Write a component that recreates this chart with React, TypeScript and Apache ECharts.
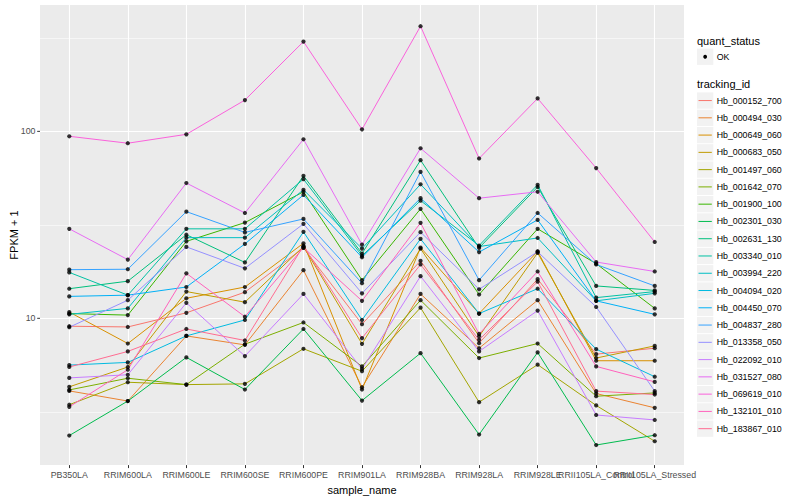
import React, { useEffect, useRef } from "react";
import * as echarts from "echarts";

const categories = [
  "PB350LA", "RRIM600LA", "RRIM600LE", "RRIM600SE", "RRIM600PE", "RRIM901LA",
  "RRIM928BA", "RRIM928LA", "RRIM928LE", "RRII105LA_Control", "RRII105LA_Stressed",
];

const trackingIds = [
  "Hb_000152_700", "Hb_000494_030", "Hb_000649_060", "Hb_000683_050", "Hb_001497_060",
  "Hb_001642_070", "Hb_001900_100", "Hb_002301_030", "Hb_002631_130", "Hb_003340_010",
  "Hb_003994_220", "Hb_004094_020", "Hb_004450_070", "Hb_004837_280", "Hb_013358_050",
  "Hb_022092_010", "Hb_031527_080", "Hb_069619_010", "Hb_132101_010", "Hb_183867_010",
];

const colors = [
  "#F8766D", "#EA8331", "#D89000", "#C09B00", "#A3A500", "#7CAE00", "#39B600", "#00BB4E",
  "#00BF7D", "#00C1A3", "#00BFC4", "#00BAE0", "#00B0F6", "#35A2FF", "#9590FF", "#C77CFF",
  "#E76BF3", "#FA62DB", "#FF62BC", "#FF6C91",
];

// FPKM + 1 values per tracking id, in category order
const hb000152_700 = [9.07, 8.99, 10.7, 13.8, 23.8, 9.3, 20.3, 7.36, 16.2, 6.43, 6.92];
const hb000494_030 = [4.09, 3.61, 8.05, 7.21, 18.1, 4.28, 13.5, 6.92, 12.5, 3.96, 3.32];
const hb000649_060 = [10.8, 7.33, 12.8, 14.7, 25.2, 4.16, 23.9, 10.6, 22.8, 5.93, 5.93];
const hb000683_050 = [4.3, 5.49, 13.9, 12.2, 24.2, 7.3, 23.6, 8.02, 22.4, 6.13, 7.12];
const hb001497_060 = [3.45, 4.55, 4.42, 4.46, 6.87, 5.21, 11.4, 3.56, 5.65, 3.42, 2.2];
const hb001642_070 = [4.14, 4.78, 4.42, 7.27, 9.5, 5.53, 12.5, 6.13, 7.33, 3.83, 3.99];
const hb001900_100 = [10.6, 10.4, 25.8, 32.5, 47.5, 16.0, 38.5, 13.4, 30.1, 19.6, 11.3];
const hb002301_030 = [2.36, 3.61, 6.18, 4.16, 8.77, 3.63, 6.51, 2.39, 6.57, 2.1, 2.37];
const hb002631_130 = [14.4, 15.8, 28.0, 19.9, 57.8, 22.2, 70.1, 23.8, 50.4, 14.9, 14.1];
const hb003340_010 = [17.6, 13.3, 30.1, 30.1, 55.5, 21.6, 42.6, 24.5, 51.8, 12.9, 13.9];
const hb003994_220 = [10.5, 11.3, 27.0, 27.0, 48.7, 23.6, 52.1, 24.2, 26.9, 12.4, 13.6];
const hb004094_020 = [5.62, 5.81, 8.05, 9.8, 29.0, 9.8, 26.6, 10.6, 14.4, 6.84, 4.87];
const hb004450_070 = [13.1, 13.3, 14.7, 25.0, 45.7, 21.2, 43.9, 22.6, 33.6, 12.4, 10.5];
const hb004837_280 = [18.2, 18.3, 37.2, 28.8, 34.0, 15.4, 60.7, 16.0, 36.6, 19.4, 14.9];
const hb013358_050 = [8.96, 12.5, 24.1, 18.5, 32.0, 13.6, 28.9, 14.3, 22.7, 11.5, 4.08];
const hb022092_010 = [4.8, 4.99, 12.1, 6.28, 13.5, 5.36, 16.8, 6.65, 11.0, 3.04, 2.86];
const hb031527_080 = [30.1, 20.6, 52.9, 36.6, 90.7, 24.8, 81.2, 43.9, 47.5, 20.0, 17.8];
const hb069619_010 = [94.1, 86.4, 96.4, 147, 302, 102.5, 365, 71.6, 150, 63.6, 25.6];
const hb132101_010 = [3.36, 5.31, 17.4, 10.2, 23.9, 12.4, 32.4, 8.25, 17.8, 5.53, 4.57];
const hb183867_010 = [5.49, 6.65, 8.77, 7.61, 24.4, 7.83, 19.4, 7.67, 15.7, 4.08, 3.91];

const seriesValues = [
  hb000152_700, hb000494_030, hb000649_060, hb000683_050, hb001497_060,
  hb001642_070, hb001900_100, hb002301_030, hb002631_130, hb003340_010,
  hb003994_220, hb004094_020, hb004450_070, hb004837_280, hb013358_050,
  hb022092_010, hb031527_080, hb069619_010, hb132101_010, hb183867_010,
];

const majorBreaks = [10, 100];
const minorBreaks = [3.1623, 31.623, 316.23];
const yMin = 1.64;
const yMax = 474;

const FONT = "'Liberation Sans', Arial, Helvetica, sans-serif";

export default function App() {
  const ref = useRef<HTMLDivElement>(null);

  useEffect(() => {
    if (!ref.current) return;
    const chart = echarts.init(ref.current, null, { renderer: "svg" });

    const gridLineData: any[] = [
      ...categories.map((c) => ({ xAxis: c, lineStyle: { width: 1.1 } })),
      ...majorBreaks.map((v) => ({ yAxis: v, lineStyle: { width: 1.1 } })),
      ...minorBreaks.map((v) => ({ yAxis: v, lineStyle: { width: 0.55 } })),
    ];

    const lineSeries = trackingIds.map((id, i) => ({
      name: id,
      type: "line",
      data: seriesValues[i],
      showSymbol: false,
      symbol: "none",
      lineStyle: { color: colors[i], width: 1 },
      itemStyle: { color: colors[i] },
      z: 5,
      silent: true,
      emphasis: { disabled: true },
    }));

    const points: number[][] = [];
    seriesValues.forEach((arr) => arr.forEach((v, j) => points.push([j, v])));

    chart.setOption({
      animation: false,
      backgroundColor: "#FFFFFF",
      textStyle: { fontFamily: FONT },
      grid: {
        left: 40,
        right: 116,
        top: 5,
        bottom: 33,
        show: true,
        backgroundColor: "#EBEBEB",
        borderWidth: 0,
      },
      xAxis: {
        type: "category",
        data: categories,
        boundaryGap: true,
        axisLine: { show: false },
        axisTick: { show: true, alignWithLabel: true, length: 3, lineStyle: { color: "#333333", width: 1 } },
        axisLabel: { interval: 0, color: "#4D4D4D", fontSize: 8.8, margin: 5, fontFamily: FONT },
        splitLine: { show: false },
        name: "sample_name",
        nameLocation: "middle",
        nameGap: 16,
        nameTextStyle: { color: "#000000", fontSize: 11, fontFamily: FONT },
      },
      yAxis: {
        type: "log",
        logBase: 10,
        min: yMin,
        max: yMax,
        axisLine: { show: false },
        axisTick: { show: false },
        axisLabel: { show: false },
        splitLine: { show: false },
        name: "FPKM + 1",
        nameLocation: "middle",
        nameRotate: 90,
        nameGap: 21,
        nameTextStyle: { color: "#000000", fontSize: 11, fontFamily: FONT },
      },
      series: [
        {
          name: "grid",
          type: "line",
          data: [],
          silent: true,
          z: 1,
          markLine: {
            silent: true,
            symbol: ["none", "none"],
            label: { show: false },
            lineStyle: { color: "#FFFFFF", type: "solid", width: 1.1 },
            emphasis: { disabled: true },
            data: gridLineData,
          },
        },
        ...lineSeries,
        {
          name: "points",
          type: "scatter",
          data: points,
          symbol: "circle",
          symbolSize: 4.2,
          itemStyle: { color: "#000000" },
          z: 10,
          silent: true,
        },
      ],
    });

    // y axis labels and ticks placed with the axis' own scale
    const yElems: any[] = [];
    majorBreaks.forEach((v) => {
      const py = chart.convertToPixel({ yAxisIndex: 0 }, v) as number;
      yElems.push({
        type: "line",
        shape: { x1: 37.2, y1: py, x2: 40, y2: py },
        style: { stroke: "#333333", lineWidth: 1 },
        silent: true,
      });
      yElems.push({
        type: "text",
        x: 35.5,
        y: py,
        style: { text: String(v), align: "right", verticalAlign: "middle", fill: "#4D4D4D", font: `8.8px ${FONT}` },
        silent: true,
      });
    });

    // legend
    const legendX = 697;
    const keySize = 16.3;
    const itemStep = 17.27;
    const firstKeyTop = 92.4;
    const legendElems: any[] = [
      {
        type: "text",
        x: legendX,
        y: 41,
        style: { text: "quant_status", verticalAlign: "middle", fill: "#000000", font: `11px ${FONT}` },
      },
      { type: "rect", shape: { x: legendX, y: 48.6, width: keySize, height: keySize }, style: { fill: "#F2F2F2" } },
      { type: "circle", shape: { cx: legendX + keySize / 2, cy: 48.6 + keySize / 2, r: 1.9 }, style: { fill: "#000000" } },
      {
        type: "text",
        x: legendX + 19.7,
        y: 48.6 + keySize / 2,
        style: { text: "OK", verticalAlign: "middle", fill: "#000000", font: `8.8px ${FONT}` },
      },
      {
        type: "text",
        x: legendX,
        y: 84.3,
        style: { text: "tracking_id", verticalAlign: "middle", fill: "#000000", font: `11px ${FONT}` },
      },
    ];
    trackingIds.forEach((id, i) => {
      const top = firstKeyTop + i * itemStep;
      const cy = top + keySize / 2;
      legendElems.push({ type: "rect", shape: { x: legendX, y: top, width: keySize, height: keySize }, style: { fill: "#F2F2F2" } });
      legendElems.push({
        type: "line",
        shape: { x1: legendX + 1.5, y1: cy, x2: legendX + keySize - 1.5, y2: cy },
        style: { stroke: colors[i], lineWidth: 1 },
      });
      legendElems.push({
        type: "text",
        x: legendX + 19.7,
        y: cy,
        style: { text: id, verticalAlign: "middle", fill: "#000000", font: `8.8px ${FONT}` },
      });
    });

    chart.setOption({ graphic: [...yElems, ...legendElems.map((e) => ({ ...e, silent: true }))] });

    return () => chart.dispose();
  }, []);

  return <div ref={ref} style={{ position: "absolute", left: 0, top: 0, width: 800, height: 500 }} />;
}
